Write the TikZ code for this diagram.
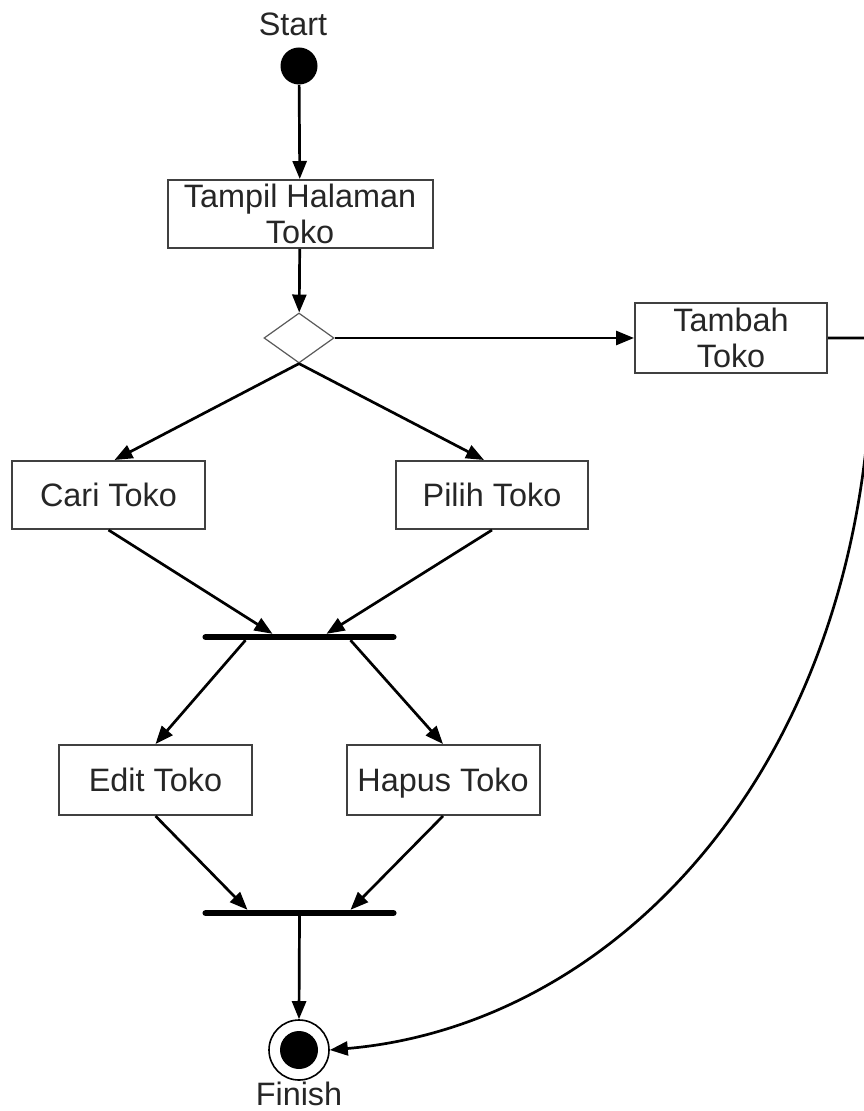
\documentclass[tikz,border=0pt]{standalone}
\usepackage{fontspec}
\setmainfont{Liberation Sans}
\usetikzlibrary{shapes.geometric,arrows.meta,calc}
\begin{document}
\begin{tikzpicture}[x=0.5pt,y=-0.5pt,
  act/.style={draw=black!75,line width=1pt,rectangle,inner sep=0pt,align=center,
    text=black!85,font=\fontsize{16.2}{18}\selectfont},
  oneline/.style={text height=12pt,text depth=1pt},
  flow/.style={line width=1.35pt,-{Triangle[length=9pt,width=7pt]}},
  forkbar/.style={fill=black,rectangle,minimum width=97pt,minimum height=2.8pt,inner sep=0pt,rounded corners=1.3pt},
  lbl/.style={text=black!85,font=\fontsize{16.2}{18}\selectfont,inner sep=0pt},
  dec/.style={diamond,draw=black!65,line width=0.6pt,inner sep=0pt,minimum width=35pt,minimum height=25pt}]
\useasboundingbox (0,0) rectangle (863,1111);

% nodes
\node[lbl] (startlbl) at (293,24) {Start};
\node[circle,fill=black,inner sep=0pt,minimum size=18.5pt] (start) at (299,66) {};
\node[act,minimum width=132.5pt,minimum height=34pt] (tampil) at (300,214) {Tampil Halaman\\Toko};
\node[dec] (d) at (299,338) {};
\node[act,minimum width=96pt,minimum height=35pt] (tambah) at (731,338) {Tambah\\Toko};
\node[act,oneline,minimum width=96.5pt,minimum height=34pt] (cari) at (108.5,495) {Cari Toko};
\node[act,oneline,minimum width=96pt,minimum height=34pt] (pilih) at (492,495) {Pilih Toko};
\node[forkbar] (fork1) at (299.5,637) {};
\node[act,oneline,minimum width=96.5pt,minimum height=35pt] (edit) at (155.5,780) {Edit Toko};
\node[act,oneline,minimum width=96.5pt,minimum height=35pt] (hapus) at (443,780) {Hapus Toko};
\node[forkbar] (fork2) at (299.5,913) {};
\node[circle,draw=black,line width=0.8pt,inner sep=0pt,minimum size=30pt] (fin) at (299,1050) {};
\node[circle,fill=black,inner sep=0pt,minimum size=19pt] (finin) at (fin.center) {};
\node[lbl] (finlbl) at (299,1094) {Finish};

\coordinate (tout) at (872,338);

% connectors
\draw[flow] (start) -- (tampil);
\draw[flow] (tampil) -- (d);
\draw[flow] (d.east) -- (tambah.west);
\draw[flow] (d.south) -- ($(cari.north)+(6,0)$);
\draw[flow] (d.south) -- ($(pilih.north)+(-8,0)$);
\draw[flow] (cari.south) -- ($(fork1.north)+(-27,0)$);
\draw[flow] (pilih.south) -- ($(fork1.north)+(27,0)$);
\draw[flow] ($(fork1.south)+(-54,0)$) -- (edit.north);
\draw[flow] ($(fork1.south)+(51,0)$) -- (hapus.north);
\draw[flow] (edit.south) -- ($(fork2.north)+(-52,0)$);
\draw[flow] (hapus.south) -- ($(fork2.north)+(51,0)$);
\draw[flow] (fork2.south) -- (fin.north);
\draw[flow] (tambah.east) -- (tout) .. controls (872,760) and (620,1025) .. (fin.east);
\end{tikzpicture}
\end{document}
